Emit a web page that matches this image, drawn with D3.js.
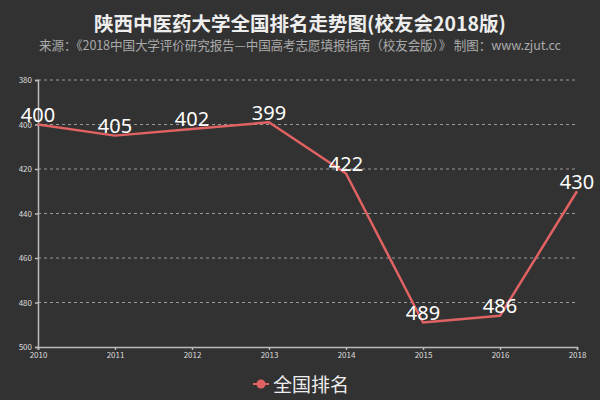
<!DOCTYPE html>
<html><head><meta charset="utf-8">
<script src="https://cdn.jsdelivr.net/npm/d3@7"></script>
<style>body{margin:0;background:#323232;}svg{display:block;font-family:"Noto Sans CJK SC","Noto Sans",sans-serif;}</style>
</head><body>
<script>
const years = ["2010","2011","2012","2013","2014","2015","2016","2018"];
const ranks = [400,405,402,399,422,489,486,430];
const yTicks = [380,400,420,440,460,480,500];
const title = "陕西中医药大学全国排名走势图(校友会2018版)";
const subtitle = "来源：《2018中国大学评价研究报告—中国高考志愿填报指南（校友会版）》 制图：www.zjut.cc";
const seriesName = "全国排名";

const W=600,H=400, mLeft=38, mRight=577, mTop=80, mBottom=347;
const svg=d3.select("body").append("svg").attr("width",W).attr("height",H);
svg.append("rect").attr("width",W).attr("height",H).attr("fill","#323232");

const x=d3.scalePoint().domain(years).range([mLeft,mRight]);
const y=d3.scaleLinear().domain([380,500]).range([mTop,mBottom]);

svg.append("text").attr("x",300).attr("y",31).attr("text-anchor","middle")
  .attr("fill","#eeeeee").attr("font-size",19.5).attr("font-weight","bold").text(title);
svg.append("text").attr("x",300).attr("y",50).attr("text-anchor","middle")
  .attr("fill","#aaaaaa").attr("font-size",12.6).attr("textLength",522).text(subtitle);

// grid
svg.append("g").selectAll("line").data(yTicks.slice(0,-1)).join("line")
  .attr("x1",mLeft).attr("x2",mRight).attr("y1",d=>y(d)).attr("y2",d=>y(d))
  .attr("stroke","#999").attr("stroke-dasharray","3,3").attr("stroke-width",1);

const ya=svg.append("g").attr("transform",`translate(${mLeft},0)`)
  .call(d3.axisLeft(y).tickValues(yTicks).tickSize(3).tickPadding(3));
const xa=svg.append("g").attr("transform",`translate(0,${mBottom})`)
  .call(d3.axisBottom(x).tickSize(3).tickPadding(2));
[ya,xa].forEach(g=>{
  g.selectAll("path,line").attr("stroke","#bbb").attr("stroke-width",1.5);
  g.selectAll("text").attr("fill","#ddd").attr("font-size",8).attr("font-family","Noto Sans CJK SC, sans-serif");
});

const pts=years.map((d,i)=>({x:x(d),y:y(ranks[i]),v:ranks[i]}));
svg.append("path").datum(pts).attr("fill","none").attr("stroke","#e06262").attr("stroke-width",2.5)
  .attr("stroke-linejoin","round")
  .attr("d",d3.line().x(d=>d.x).y(d=>d.y));
svg.append("g").selectAll("text").data(pts).join("text")
  .attr("x",d=>d.x).attr("y",d=>d.y-2.5).attr("text-anchor","middle")
  .attr("fill","#ffffff").attr("font-size",20).attr("font-family","Noto Sans, sans-serif").text(d=>d.v);

// legend
const lg=svg.append("g").attr("transform","translate(261,384)");
lg.append("line").attr("x1",-8).attr("x2",8).attr("stroke","#e06262").attr("stroke-width",2);
lg.append("circle").attr("r",4.5).attr("fill","#e06262");
lg.append("text").attr("x",12).attr("y",8).attr("fill","#eeeeee").attr("font-size",19).text(seriesName);
</script>
</body></html>
